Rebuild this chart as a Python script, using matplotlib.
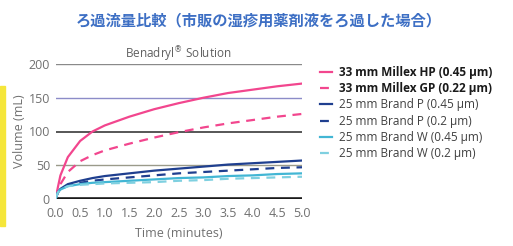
import matplotlib.pyplot as plt
from matplotlib.patches import Rectangle

# Data
time_min = [0, 0.05, 0.1, 0.25, 0.5, 0.75, 1.0, 1.5, 2.0, 2.5, 3.0, 3.5, 4.0, 4.5, 5.0]
millex_hp = [0, 18, 35, 62, 86, 100, 109, 122, 133, 142, 150, 157, 162, 167, 171]
millex_gp = [0, 12, 22, 40, 56, 65, 72, 82, 91, 99, 106, 112, 117, 122, 126]
brand_p45 = [0, 10, 15, 22, 27, 31, 34, 38, 42, 45, 48, 51, 53, 55, 57]
brand_p20 = [0, 10, 14, 20, 24, 27, 29, 32, 35, 38, 40, 42, 44, 46, 47]
brand_w45 = [0, 10, 14, 19, 22, 24, 25, 27, 29, 31, 32, 34, 35, 37, 38]
brand_w20 = [0, 10, 14, 19, 21, 22, 23, 24, 25, 27, 28, 30, 31, 32, 33]

labels = ['33 mm Millex HP (0.45 µm)', '33 mm Millex GP (0.22 µm)',
          '25 mm Brand P (0.45 µm)', '25 mm Brand P (0.2 µm)',
          '25 mm Brand W (0.45 µm)', '25 mm Brand W (0.2 µm)']
yticks = [0, 50, 100, 150, 200]
xticks = [0.0, 0.5, 1.0, 1.5, 2.0, 2.5, 3.0, 3.5, 4.0, 4.5, 5.0]

plt.rcParams['font.family'] = ['Open Sans', 'DejaVu Sans']

fig = plt.figure(figsize=(5.13, 2.46), dpi=100)
ax = fig.add_axes([55.5 / 513, 47 / 246, 246.5 / 513, 135 / 246])

# yellow strip at the left edge
fig.patches.append(Rectangle((0, 20 / 246), 5 / 513, 140 / 246,
                             transform=fig.transFigure, color='#f5e63a'))

# horizontal rules
grid_styles = {200: ('#8a8a8a', 1.0), 150: ('#8c8cc8', 1.0), 100: ('#3a3a3a', 1.2),
               50: ('#9a9a8a', 1.0), 0: ('#1a1a1a', 2.6)}
for v in yticks:
    c, lw = grid_styles[v]
    ax.axhline(v, color=c, lw=lw, zorder=1)

pink = '#f2468e'
navy = '#1f3f8f'
cyan = '#42b6d4'
ax.plot(time_min, millex_hp, color=pink, lw=1.6, label=labels[0], zorder=3)
ax.plot(time_min, millex_gp, color=pink, lw=1.6, ls=(0, (4, 3)), label=labels[1], zorder=3)
ax.plot(time_min, brand_p45, color=navy, lw=1.6, label=labels[2], zorder=3)
ax.plot(time_min, brand_p20, color=navy, lw=1.6, ls=(0, (4, 3)), label=labels[3], zorder=3)
ax.plot(time_min, brand_w45, color=cyan, lw=1.6, label=labels[4], zorder=3)
ax.plot(time_min, brand_w20, color='#7fd0e0', lw=1.6, ls=(0, (4, 3)), label=labels[5], zorder=3)

ax.set_xlim(0, 5)
ax.set_ylim(0, 200)
ax.set_xticks(xticks)
ax.set_xticklabels(['%.1f' % t for t in xticks])
ax.set_yticks(yticks)
for s in ax.spines.values():
    s.set_visible(False)
ax.tick_params(length=0, colors='#707070', labelsize=9)
ax.tick_params(axis='x', pad=6)
ax.tick_params(axis='y', pad=4)
ax.set_xlabel('Time (minutes)', color='#707070', fontsize=9, labelpad=5)
ax.set_ylabel('Volume (mL)', color='#707070', fontsize=9, labelpad=2)
ax.set_title('Benadryl$^{®}$ Solution', color='#606060', fontsize=8.5, pad=4)

leg = ax.legend(loc='upper left', bbox_to_anchor=(1.053, 1.022), frameon=False,
                fontsize=8.5, handlelength=1.0, handletextpad=0.65,
                labelspacing=0.28, borderaxespad=0)
for i, txt in enumerate(leg.get_texts()):
    if i < 2:
        txt.set_fontweight('bold')
        txt.set_color('#1a1a1a')
    else:
        txt.set_color('#404040')

fig.text(0.505, 0.915, 'ろ過流量比較（市販の湿疹用薬剤液をろ過した場合）',
         family=['Noto Sans CJK JP', 'DejaVu Sans'], fontweight='bold',
         fontsize=11, color='#3d6fc4', ha='center', va='center')

fig.savefig('out.png', dpi=100)
